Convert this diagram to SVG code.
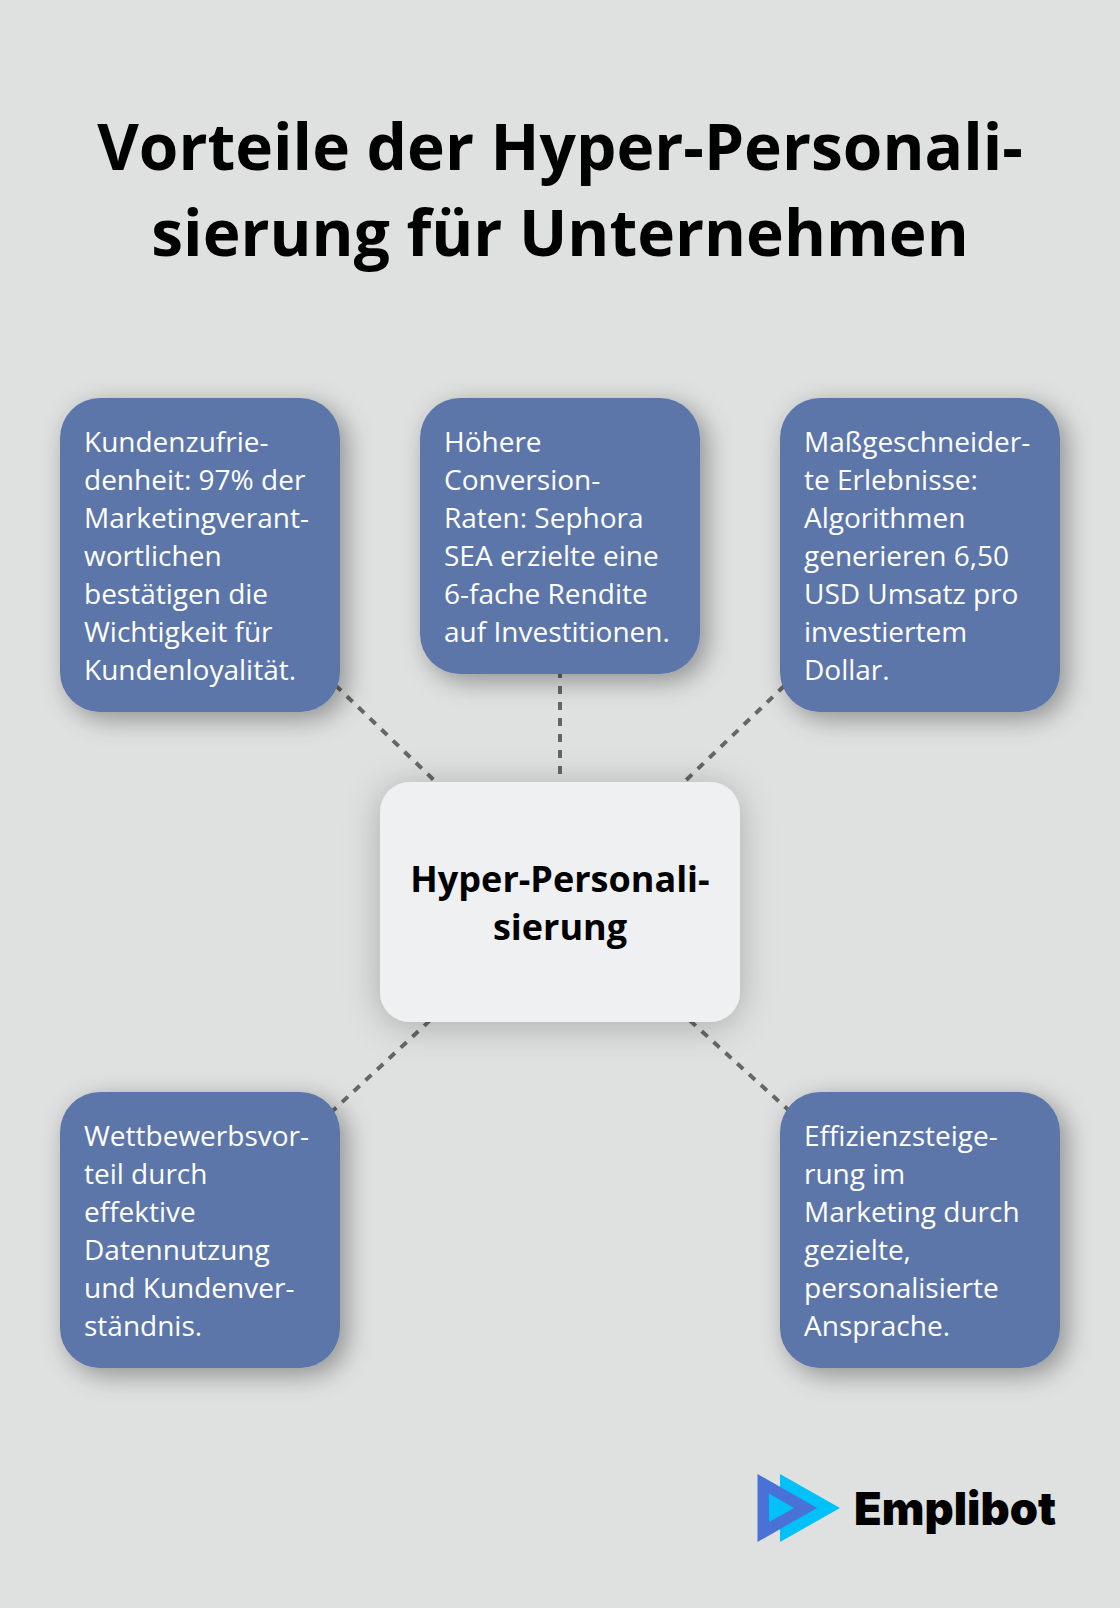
<svg xmlns="http://www.w3.org/2000/svg" width="1120" height="1608" viewBox="0 0 1120 1608">
<defs>
<filter id="sh" x="-30%" y="-30%" width="160%" height="160%"><feDropShadow dx="7" dy="7" stdDeviation="13" flood-color="#000" flood-opacity="0.36"/></filter>
<filter id="shc" x="-30%" y="-30%" width="160%" height="160%"><feDropShadow dx="0" dy="4" stdDeviation="18" flood-color="#000" flood-opacity="0.24"/></filter>
</defs>
<style>
text{font-family:"Open Sans","Noto Sans",sans-serif}
.t{font-size:64px;font-weight:700;fill:#000;text-anchor:middle}
.c{font-size:36px;font-weight:700;fill:#000;text-anchor:middle}
.b{font-size:28px;fill:#fff}
.box{fill:#5d76a9;filter:url(#sh)}
.cbox{fill:#eef0f2;filter:url(#shc)}
.cn{stroke:#666;stroke-width:4;stroke-dasharray:8 8;fill:none}
</style>
<rect width="1120" height="1608" fill="#dfe1e0"/>
<g id="title"><text class="t" x="560" y="170">Vorteile der Hyper-Personali-</text><text class="t" x="560" y="256">sierung für Unternehmen</text></g>
<g id="connectors">
<path class="cn" d="M323.800 674L438 784"/>
<path class="cn" d="M560 670V782"/>
<path class="cn" d="M795.900 674.700L682 784"/>
<path class="cn" d="M430 1020.400L325 1118"/>
<path class="cn" d="M689.900 1020.500L795 1116"/>
</g>
<g id="n1"><rect class="box" x="60" y="398" width="280" height="314" rx="40"/>
<text class="b" x="84" y="452">Kundenzufrie-</text><text class="b" x="84" y="490">denheit: 97% der</text><text class="b" x="84" y="528">Marketingverant-</text><text class="b" x="84" y="566">wortlichen</text><text class="b" x="84" y="604">bestätigen die</text><text class="b" x="84" y="642">Wichtigkeit für</text><text class="b" x="84" y="680">Kundenloyalität.</text></g>
<g id="n2"><rect class="box" x="420" y="398" width="280" height="276" rx="40"/>
<text class="b" x="444" y="452">Höhere</text><text class="b" x="444" y="490">Conversion-</text><text class="b" x="444" y="528">Raten: Sephora</text><text class="b" x="444" y="566">SEA erzielte eine</text><text class="b" x="444" y="604">6-fache Rendite</text><text class="b" x="444" y="642">auf Investitionen.</text></g>
<g id="n3"><rect class="box" x="780" y="398" width="280" height="314" rx="40"/>
<text class="b" x="804" y="452">Maßgeschneider-</text><text class="b" x="804" y="490">te Erlebnisse:</text><text class="b" x="804" y="528">Algorithmen</text><text class="b" x="804" y="566">generieren 6,50</text><text class="b" x="804" y="604">USD Umsatz pro</text><text class="b" x="804" y="642">investiertem</text><text class="b" x="804" y="680">Dollar.</text></g>
<g id="n4"><rect class="box" x="60" y="1092" width="280" height="276" rx="40"/>
<text class="b" x="84" y="1146">Wettbewerbsvor-</text><text class="b" x="84" y="1184">teil durch</text><text class="b" x="84" y="1222">effektive</text><text class="b" x="84" y="1260">Datennutzung</text><text class="b" x="84" y="1298">und Kundenver-</text><text class="b" x="84" y="1336">ständnis.</text></g>
<g id="n5"><rect class="box" x="780" y="1092" width="280" height="276" rx="40"/>
<text class="b" x="804" y="1146">Effizienzsteige-</text><text class="b" x="804" y="1184">rung im</text><text class="b" x="804" y="1222">Marketing durch</text><text class="b" x="804" y="1260">gezielte,</text><text class="b" x="804" y="1298">personalisierte</text><text class="b" x="804" y="1336">Ansprache.</text></g>
<g id="center"><rect class="cbox" x="380" y="782" width="360" height="240" rx="30"/>
<text class="c" x="560" y="892">Hyper-Personali-</text><text class="c" x="560" y="940">sierung</text></g>
<g id="logo">
<path d="M780 1474L840 1508L780 1542Z" fill="#00c2f9"/>
<path d="M757.500 1474L817 1508L757.500 1542Z" fill="#4a72d6"/>
<path d="M769 1493.500L794 1508L769 1522Z" fill="#00c2f9"/>
<text x="854" y="1525" font-size="46" font-weight="900" style="font-family:Inter,sans-serif" textLength="202" lengthAdjust="spacingAndGlyphs" fill="#000">Emplibot</text>
</g>
</svg>
